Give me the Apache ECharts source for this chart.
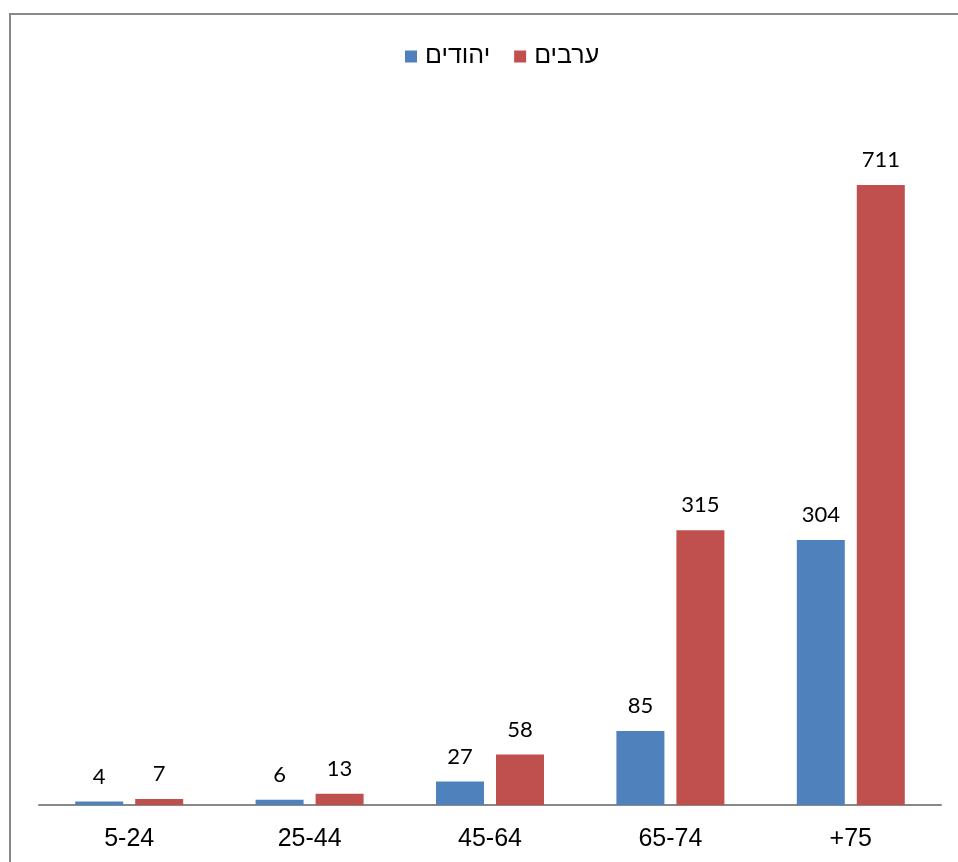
<!DOCTYPE html>
<html>
<head>
<meta charset="utf-8">
<script src="https://cdn.jsdelivr.net/npm/echarts@6/dist/echarts.min.js"></script>
<style>
  html, body { margin: 0; padding: 0; background: #fff; }
  #main { width: 958px; height: 862px; }
</style>
</head>
<body>
<div id="main"></div>
<script>
  const categories = ['5-24', '25-44', '45-64', '65-74', '+75']
  const jews = [4, 6, 27, 85, 304]
  const arabs = [7, 13, 58, 315, 711]

  const chart = echarts.init(document.getElementById('main'))
  const labelStyle = {
    show: true,
    position: 'top',
    distance: 14,
    color: '#000',
    fontSize: 22,
    fontFamily: 'Lato, "Open Sans", sans-serif'
  }
  chart.setOption({
    animation: false,
    graphic: [{
      type: 'rect',
      shape: { x: 10, y: 14, width: 970, height: 880 },
      style: { fill: 'none', stroke: '#898989', lineWidth: 2 },
      silent: true
    }],
    legend: {
      top: 39,
      left: 400,
      itemWidth: 12,
      itemHeight: 12,
      itemGap: 24,
      icon: 'rect',
      textStyle: { fontSize: 25, color: '#000', fontFamily: 'Liberation Sans, Arial, sans-serif', padding: [0, 0, 0, 3] }
    },
    grid: { left: 39, right: 17, top: 107.4, bottom: 57 },
    xAxis: {
      type: 'category',
      data: categories,
      axisLine: { lineStyle: { color: '#888', width: 2 } },
      axisTick: { show: false },
      axisLabel: { color: '#000', fontSize: 25, margin: 22, fontFamily: 'Liberation Sans, Arial, sans-serif' }
    },
    yAxis: {
      type: 'value',
      min: 0,
      max: 800,
      show: false
    },
    series: [{
      name: 'יהודים',
      type: 'bar',
      data: jews,
      barWidth: 48,
      barGap: '25%',
      itemStyle: { color: '#4f81bd' },
      label: labelStyle
    }, {
      name: 'ערבים',
      type: 'bar',
      data: arabs,
      barWidth: 48,
      barGap: '25%',
      itemStyle: { color: '#c0504d' },
      label: labelStyle
    }]
  })
</script>
</body>
</html>
